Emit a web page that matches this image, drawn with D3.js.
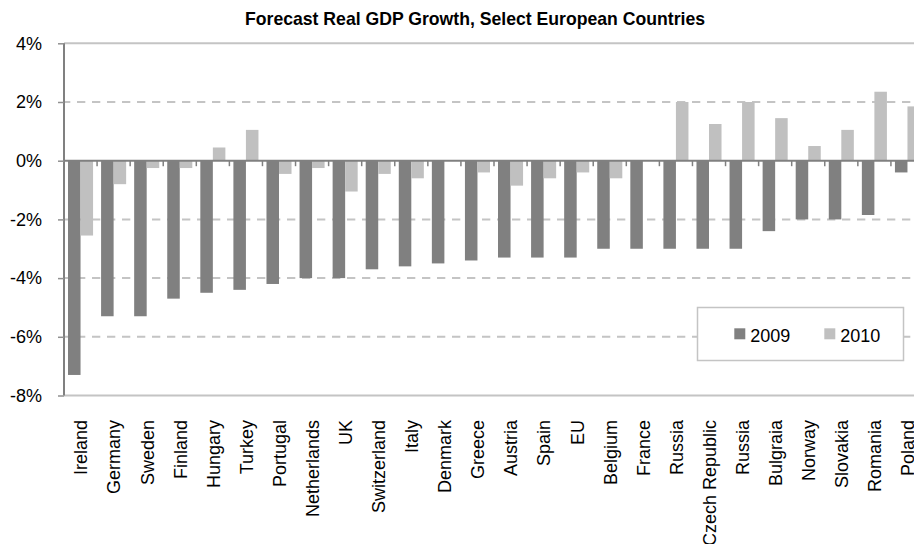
<!DOCTYPE html>
<html>
<head>
<meta charset="utf-8">
<script src="https://cdn.jsdelivr.net/npm/d3@7"></script>
<style>
  html, body { margin: 0; padding: 0; background: #fff; overflow: hidden; }
  svg { display: block; }
  text { font-family: "Liberation Sans", Arial, sans-serif; fill: #000; }
</style>
</head>
<body>
<svg id="chart" width="914" height="544"></svg>
<script>
const title = "Forecast Real GDP Growth, Select European Countries";
const categories = ["Ireland","Germany","Sweden","Finland","Hungary","Turkey","Portugal","Netherlands","UK","Switzerland","Italy","Denmark","Greece","Austria","Spain","EU","Belgium","France","Russia","Czech Republic","Russia","Bulgraia","Norway","Slovakia","Romania","Poland"];
const seriesNames = ["2009", "2010"];
const values2009 = [-7.3,-5.3,-5.3,-4.7,-4.5,-4.4,-4.2,-4.0,-4.0,-3.7,-3.6,-3.5,-3.4,-3.3,-3.3,-3.3,-3.0,-3.0,-3.0,-3.0,-3.0,-2.4,-2.0,-2.0,-1.85,-0.4];
const values2010 = [-2.55,-0.8,-0.25,-0.25,0.45,1.05,-0.45,-0.25,-1.05,-0.45,-0.6,0,-0.4,-0.85,-0.6,-0.4,-0.6,0,2.0,1.25,2.0,1.45,0.5,1.05,2.35,1.85];
const yTicks = [-8,-6,-4,-2,0,2,4];
const colors = {"2009": "#808080", "2010": "#c0c0c0"};

const svg = d3.select("#chart");
const plotLeft = 64, plotRight = 924, plotTop = 43.3, plotBottom = 395.5;

const x0 = d3.scaleBand().domain(d3.range(categories.length)).range([plotLeft, plotRight]).padding(0);
const x1 = d3.scaleBand().domain(seriesNames).range([0, x0.bandwidth()]).paddingInner(0).paddingOuter(0.32);
const y = d3.scaleLinear().domain([-8, 4]).range([plotBottom, plotTop]);

// title (narrow bold look)
svg.append("text")
  .attr("x", 245).attr("y", 25)
  .attr("textLength", 460)
  .attr("lengthAdjust", "spacingAndGlyphs")
  .style("font-family", "'Liberation Sans Narrow', 'Arial Narrow', 'Liberation Sans', sans-serif")
  .style("font-weight", "bold")
  .style("font-size", "19px")
  .text(title);

// gridlines
const grid = svg.append("g");
yTicks.filter(t => t !== 0).forEach(t => {
  const edge = (t === 4 || t === -8);
  grid.append("line")
    .attr("x1", plotLeft).attr("x2", 914)
    .attr("y1", y(t)).attr("y2", y(t))
    .attr("stroke", "#c4c4c4")
    .attr("stroke-width", 2)
    .attr("stroke-dasharray", edge ? null : "8.3,6.7")
    .attr("stroke-dashoffset", edge ? null : -13);
});

// y axis
const yAxis = d3.axisLeft(y).tickValues(yTicks).tickSize(6).tickPadding(16).tickFormat(d => d + "%");
const gy = svg.append("g").attr("transform", `translate(${plotLeft},0)`).call(yAxis);
gy.select(".domain").attr("stroke", "#808080").attr("stroke-width", 2).attr("d", `M0,${plotTop}V${plotBottom}`);
gy.selectAll(".tick line").attr("stroke", "#909090").attr("stroke-width", 1.5);
gy.selectAll(".tick text").style("font-size", "18px").style("font-family", "'Liberation Sans', Arial, sans-serif").attr("fill", "#000");

// bars
const data = categories.map((c, i) => ({i, c, vals: [{k: "2009", v: values2009[i]}, {k: "2010", v: values2010[i]}]}));
const groups = svg.append("g").selectAll("g").data(data).join("g")
  .attr("transform", d => `translate(${x0(d.i)},0)`);
groups.selectAll("rect").data(d => d.vals).join("rect")
  .attr("x", d => x1(d.k))
  .attr("width", x1.bandwidth())
  .attr("y", d => y(Math.max(0, d.v)))
  .attr("height", d => Math.abs(y(d.v) - y(0)))
  .attr("fill", d => colors[d.k]);

// x axis (zero line) with category boundary ticks
const xAxisG = svg.append("g");
xAxisG.selectAll("line.tk").data(d3.range(1, categories.length + 1)).join("line")
  .attr("class", "tk")
  .attr("x1", i => x0(i - 1) + x0.step()).attr("x2", i => x0(i - 1) + x0.step())
  .attr("y1", y(0)).attr("y2", y(0) + 5.5)
  .attr("stroke", "#808080").attr("stroke-width", 1.5);
xAxisG.append("line")
  .attr("x1", plotLeft).attr("x2", 914)
  .attr("y1", y(0)).attr("y2", y(0))
  .attr("stroke", "#808080").attr("stroke-width", 2);

// x labels
svg.append("g").selectAll("text").data(data).join("text")
  .attr("transform", d => `translate(${x0(d.i) + x0.bandwidth() / 2},420) rotate(-90)`)
  .attr("text-anchor", "end")
  .attr("dy", "0.38em")
  .style("font-size", "18px")
  .text(d => d.c);

// legend
const lg = svg.append("g");
lg.append("rect").attr("x", 697.5).attr("y", 307.5).attr("width", 206).attr("height", 53)
  .attr("fill", "#fff").attr("stroke", "#c4c4c4").attr("stroke-width", 1.5);
const legendX = [734.3, 824.3];
seriesNames.forEach((s, i) => {
  lg.append("rect").attr("x", legendX[i]).attr("y", 328.3).attr("width", 11).attr("height", 11).attr("fill", colors[s]);
  lg.append("text").attr("x", legendX[i] + 16).attr("y", 342.3).style("font-size", "18px").text(s);
});
</script>
</body>
</html>
